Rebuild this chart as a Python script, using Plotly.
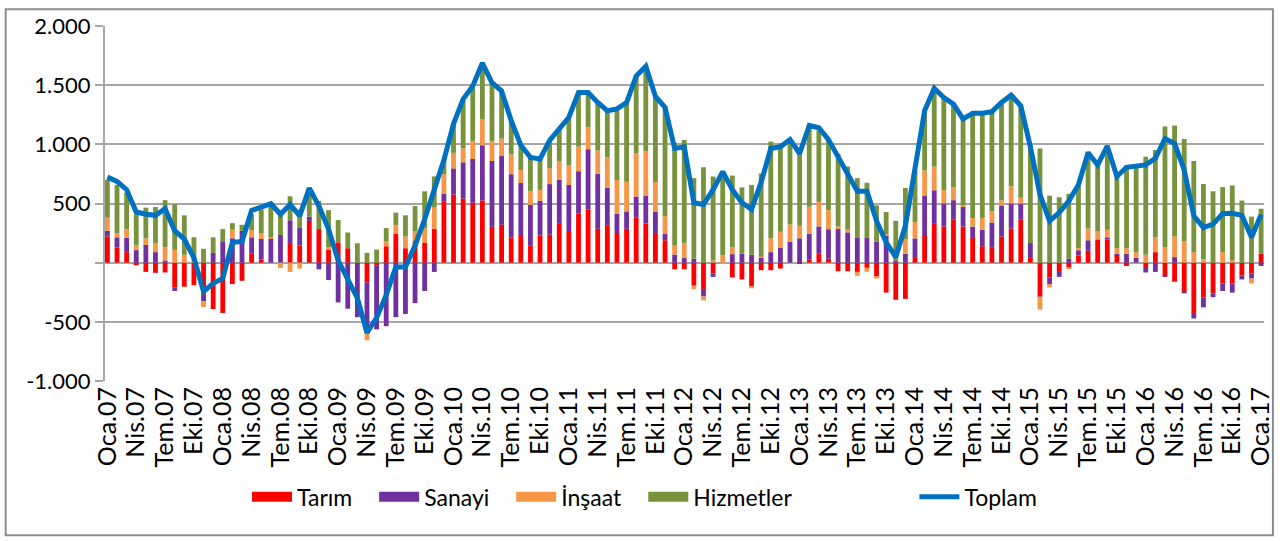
import plotly.graph_objects as go

months_tr = ["Oca", "Şub", "Mar", "Nis", "May", "Haz", "Tem", "Ağu", "Eyl", "Eki", "Kas", "Ara"]
categories = []
for yr in range(7, 18):
    for m in months_tr:
        categories.append(f"{m}.{yr:02d}")
categories = categories[:121]  # Oca.07 .. Oca.17
tick_labels = categories[::3]

tarim = [222, 128, 89, -22, -78, -86, -83, -208, -203, -190, -272, -392, -425, -181, -153, 75, 28, 0, 0, 158,
         145, 353, 284, 111, 172, 122, 0, -167, -22, 139, 242, 122, 181, 167, 284, 514, 575, 542, 506, 525,
         303, 320, 211, 225, 147, 231, 236, 334, 259, 414, 450, 286, 311, 242, 286, 384, 331, 250, 189, -56,
         -56, -195, -222, -92, 0, -125, -142, -203, -64, -64, -50, 0, -10, 28, 75, 33, -72, -72, -78, -44,
         -120, -253, -314, -306, 47, 234, 334, 306, 367, 306, 208, 139, 131, 222, 289, 367, 47, -278, -125, -78,
         -44, 61, 100, 197, 197, 64, -28, 0, -36, 89, -106, -161, -245, -425, -295, -259, -175, -175, -106, -92,
         75]
sanayi = [47, 86, 122, 106, 150, 89, 19, -31, 0, 0, -56, 83, 181, 206, 270, 139, 172, 200, 234, 200,
          153, 36, -56, -147, -336, -389, -461, -425, -542, -537, -461, -434, -342, -239, -78, 67, 222, 306, 370, 467,
          556, 581, 537, 448, 342, 292, 428, 367, 398, 359, 509, 467, 322, 170, 147, 175, 236, 181, 53, 69,
          39, 33, -64, -28, 0, 72, 75, 67, 42, 89, 128, 178, 206, 214, 231, 250, 284, 256, 214, 214,
          178, 228, 19, 75, 158, 334, 278, 195, 161, 167, 97, 139, 208, 261, 211, 131, 120, -8, -56, -42,
          33, 44, 89, 0, 17, 11, 75, 42, -47, -78, -14, 47, -14, -47, -83, -33, -64, -78, -36, -42,
          -28]
insaat = [111, 33, 70, 44, 56, 75, 111, 108, 67, 15, -47, 0, 0, 72, 0, 61, 47, 14, -44, -78,
          -50, 0, 0, 19, 0, 0, 0, -64, 0, 39, 75, 100, 83, 122, 181, 167, 131, 117, 153, 222,
          170, 147, 167, 111, 114, 92, 133, 153, 164, 208, 183, 195, 256, 286, 250, 367, 373, 250, 150, 75,
          128, -28, -33, 19, 61, 58, 0, -14, 11, 117, 133, 145, 106, 231, 208, 161, 22, 22, -33, -33,
          -14, 14, 0, 120, 139, 211, 200, 111, 111, 14, 72, 100, 97, 44, 145, 50, 0, -111, -28, 0,
          -11, 19, 100, 67, 64, 47, 47, 47, 67, 125, 131, 175, 183, 89, 28, 0, 89, 19, 0, -42,
          0]
hizmetler = [320, 411, 309, 259, 259, 306, 398, 384, 333, 200, 117, 131, 103, 56, 50, 133, 203, 292, 195, 203,
             150, 240, 236, 314, 189, 133, 164, 83, 111, 114, 106, 178, 214, 314, 264, 120, 245, 403, 450, 459,
             492, 403, 286, 214, 286, 261, 236, 278, 409, 456, 295, 406, 395, 601, 670, 651, 720, 723, 934, 870,
             870, 681, 806, 709, 711, 606, 561, 590, 700, 817, 747, 720, 640, 689, 603, 603, 614, 534, 500, 461,
             306, 186, 334, 436, 430, 506, 661, 784, 706, 742, 878, 878, 834, 812, 778, 778, 825, 965, 567, 553,
             548, 522, 650, 561, 715, 606, 700, 723, 828, 737, 1020, 937, 862, 770, 637, 603, 550, 634, 525, 389,
             381]
toplam = [723, 687, 617, 428, 409, 400, 456, 270, 200, 40, -245, -175, -133, 172, 178, 442, 470, 498, 409, 492,
          395, 630, 478, 284, 19, -133, -300, -592, -467, -272, -36, -36, 145, 367, 617, 867, 1173, 1382, 1493, 1687,
          1521, 1451, 1201, 992, 890, 876, 1034, 1131, 1229, 1437, 1437, 1354, 1284, 1299, 1353, 1577, 1660, 1404, 1312, 965,
          979, 506, 492, 617, 770, 617, 506, 450, 680, 965, 979, 1040, 923, 1159, 1140, 1040, 895, 756, 603, 603,
          353, 172, 47, 311, 780, 1284, 1473, 1396, 1340, 1215, 1262, 1262, 1276, 1354, 1415, 1326, 979, 575, 353, 423,
          520, 659, 929, 826, 984, 728, 806, 812, 826, 881, 1048, 1006, 784, 395, 297, 325, 414, 417, 400, 214,
          406]

y_tickvals = [-1000, -500, 0, 500, 1000, 1500, 2000]
y_ticktext = ["-1.000", "-500", "", "500", "1.000", "1.500", "2.000"]

FONT = "Lato, 'Open Sans', sans-serif"
GRID = "#A6A6A6"

# plot area: x 105..1272, y 22..381
L, R, T, B = 105, 1272, 22, 381
W, H = 1286, 541
pw, ph = R - L, B - T

def px_x(p):
    return (p - L) / pw

def px_y(p):
    return (B - p) / ph

fig = go.Figure()
series = [("Tarım", tarim, "#FF0000"), ("Sanayi", sanayi, "#7030A0"),
          ("İnşaat", insaat, "#F79646"), ("Hizmetler", hizmetler, "#77933C")]
legend_x = [256, 384, 522, 655, 928]
legend_keys = ["legend", "legend2", "legend3", "legend4", "legend5"]

for k, (name, vals, col) in enumerate(series):
    fig.add_trace(go.Bar(x=categories, y=vals, name=name, showlegend=False,
                         marker=dict(color=col, line=dict(width=0))))
    # legend swatch (wide rectangle like the original)
    fig.add_trace(go.Scatter(x=[None], y=[None], name=name, mode="lines",
                             line=dict(color=col, width=15), legend=legend_keys[k]))
fig.add_trace(go.Scatter(x=categories, y=toplam, name="Toplam", mode="lines",
                         line=dict(color="#0070C0", width=5), legend="legend5"))

legend_common = dict(orientation="h", xanchor="left", yanchor="middle", y=px_y(498),
                     font=dict(size=23, family=FONT, color="#000"), bgcolor="rgba(0,0,0,0)",
                     itemwidth=40)
layout_legends = {}
for key, lx in zip(legend_keys, legend_x):
    layout_legends[key] = dict(legend_common, x=px_x(lx - 8))

fig.update_layout(
    width=W, height=H,
    margin=dict(l=L, r=W - R, t=T, b=H - B),
    barmode="relative", bargap=0.5,
    plot_bgcolor="white", paper_bgcolor="white",
    font=dict(family=FONT, size=22, color="#000000"),
    showlegend=True,
    xaxis=dict(type="category", range=[-0.25, 120.3], tickmode="array", tickvals=tick_labels,
               ticktext=tick_labels, tickangle=-90, showgrid=False, showline=False,
               ticks="", tickfont=dict(size=25)),
    yaxis=dict(range=[-1000, 2000], tickmode="array", tickvals=y_tickvals, ticktext=y_ticktext,
               showgrid=True, gridcolor=GRID, gridwidth=2,
               zeroline=True, zerolinecolor=GRID, zerolinewidth=2,
               showline=True, linecolor=GRID, linewidth=2,
               ticks="outside", ticklen=8, tickcolor=GRID, tickwidth=2,
               tickfont=dict(size=22)),
    shapes=[dict(type="rect", xref="paper", yref="paper",
                 x0=px_x(5), x1=px_x(1281), y0=px_y(537), y1=px_y(5),
                 line=dict(color="#8C8C8C", width=2), fillcolor="rgba(0,0,0,0)", layer="below")],
    **layout_legends,
)

fig.write_html("out.html", config={"displayModeBar": False},
               post_script="document.body.style.margin='0';")
